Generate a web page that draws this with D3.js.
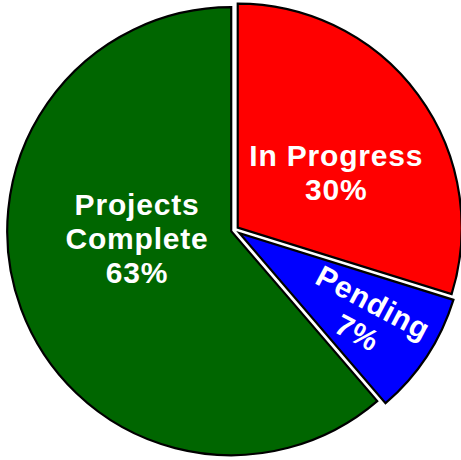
<!DOCTYPE html>
<html>
<head>
<meta charset="utf-8">
<script src="https://cdn.jsdelivr.net/npm/d3@7"></script>
<style>
  body { margin: 0; background: #fff; }
  svg { display: block; }
  .slice-label { font-family: "Liberation Sans", Arial, sans-serif; font-weight: bold; font-size: 30px; fill: #fff; letter-spacing: 0.8px; }
</style>
</head>
<body>
<svg width="461" height="460"></svg>
<script>
// slices in drawing order, clockwise from 12 o'clock
var categories = ["In Progress", "Pending", "Projects Complete"];
var labelLines = [["In Progress"], ["Pending"], ["Projects", "Complete"]];
var shares = [29.8, 8.9, 61.3];          // slice sizes as drawn
var percentLabels = ["30%", "7%", "63%"];  // text printed on the slices
var colors = ["#ff0000", "#0000ff", "#006600"];

var svg = d3.select("svg"),
    width = +svg.attr("width"),
    height = +svg.attr("height");

var cx = 234.5, cy = 230, radius = 224;
var explode = [4, 6, 3.5];
// label placement: radius from centre, angular shift from slice middle (deg), text rotation
var labelRadius = [116, 158, 98];
var labelShift = [7.7, 1, 14.5];
var labelRotate = [0, 28, 0];
var lineHeight = 34;

var pie = d3.pie().sort(null).value(function(d) { return d; });
var arcs = pie(shares);

var arc = d3.arc()
    .innerRadius(0)
    .outerRadius(radius);

function polar(angle, r) {
    return [Math.sin(angle) * r, -Math.cos(angle) * r];
}

var slices = svg.append("g")
    .selectAll("g")
    .data(arcs)
    .enter().append("g")
    .attr("transform", function(d, i) {
        var mid = (d.startAngle + d.endAngle) / 2;
        var p = polar(mid, explode[i]);
        return "translate(" + (cx + p[0]) + "," + (cy + p[1]) + ")";
    });

slices.append("path")
    .attr("d", arc)
    .attr("fill", function(d, i) { return colors[i]; })
    .attr("stroke", "#000")
    .attr("stroke-width", 2.2)
    .attr("stroke-linejoin", "miter");

var labels = svg.append("g")
    .selectAll("g")
    .data(arcs)
    .enter().append("g")
    .attr("transform", function(d, i) {
        var mid = (d.startAngle + d.endAngle) / 2 + labelShift[i] * Math.PI / 180;
        var p = polar(mid, labelRadius[i]);
        return "translate(" + (cx + p[0]) + "," + (cy - 1 + p[1]) + ") rotate(" + labelRotate[i] + ")";
    });

labels.each(function(d, i) {
    var lines = labelLines[i].concat([percentLabels[i]]);
    var text = d3.select(this).append("text")
        .attr("class", "slice-label")
        .attr("text-anchor", "middle");
    lines.forEach(function(line, j) {
        text.append("tspan")
            .attr("x", 0)
            .attr("y", (j - (lines.length - 1) / 2) * lineHeight + 10)
            .text(line);
    });
});
</script>
</body>
</html>
